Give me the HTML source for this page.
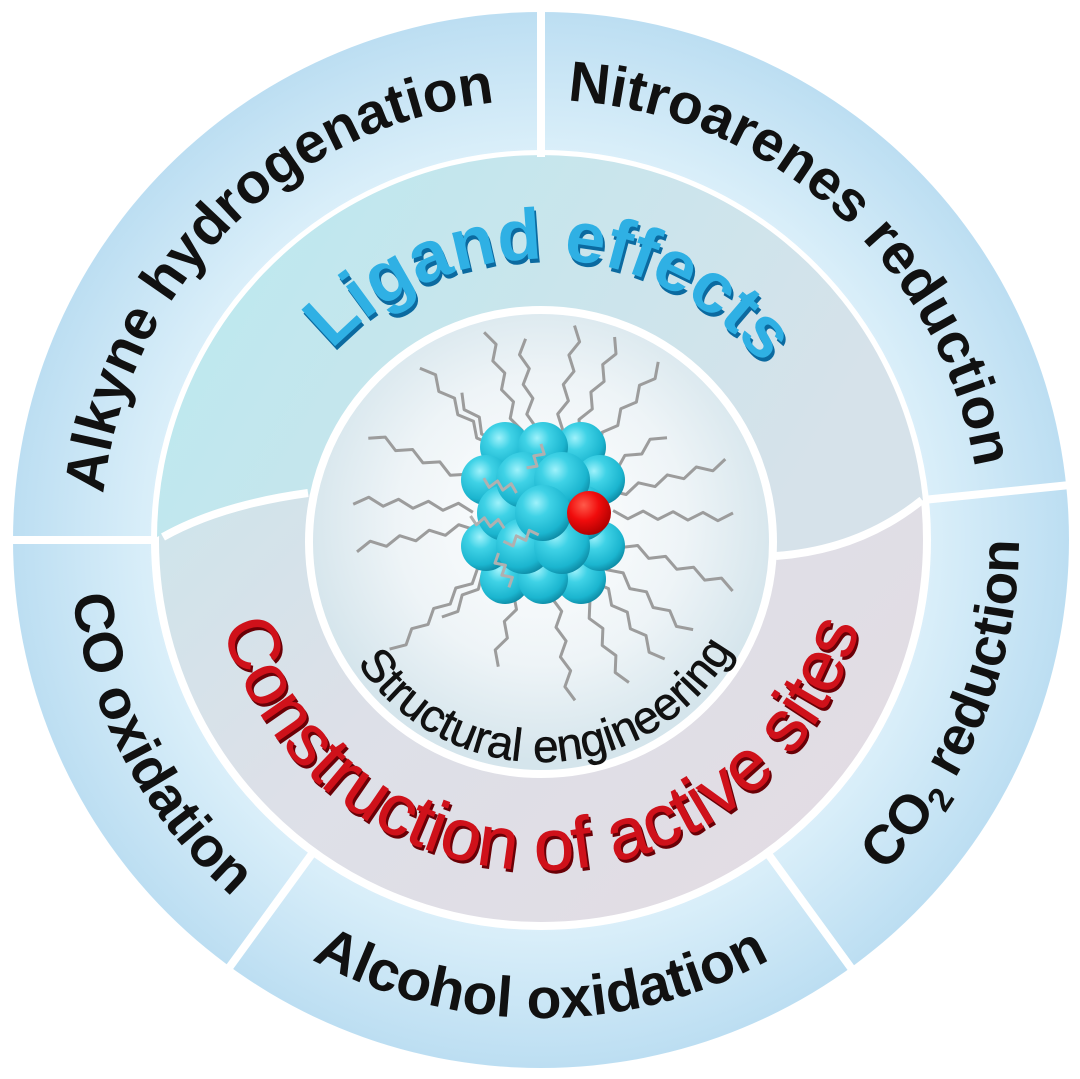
<!DOCTYPE html>
<html><head><meta charset="utf-8"><style>
html,body{margin:0;padding:0;background:#fff;}
svg{display:block;}
</style></head><body>
<svg id="s" width="1080" height="1079" viewBox="0 0 1080 1079" xmlns="http://www.w3.org/2000/svg">
<defs>
<radialGradient id="gOut" cx="541" cy="540" r="528" gradientUnits="userSpaceOnUse">
<stop offset="0.72" stop-color="#dcf0fa"/><stop offset="1" stop-color="#bcdef2"/></radialGradient>
<linearGradient id="gUp" x1="0" y1="0" x2="1" y2="0.3">
<stop offset="0" stop-color="#b9e9ef"/><stop offset="1" stop-color="#d6e2ea"/></linearGradient>
<linearGradient id="gLow" x1="0" y1="0" x2="1" y2="1">
<stop offset="0" stop-color="#c2e8ee"/><stop offset="0.5" stop-color="#dde0e8"/><stop offset="1" stop-color="#e4dbe2"/></linearGradient>
<radialGradient id="gIn" cx="541" cy="520" r="240" gradientUnits="userSpaceOnUse">
<stop offset="0" stop-color="#ffffff"/><stop offset="0.6" stop-color="#eef4f7"/><stop offset="1" stop-color="#d5e5ec"/></radialGradient>
<radialGradient id="gSph" cx="0.38" cy="0.32" r="0.7">
<stop offset="0" stop-color="#9ff2fb"/><stop offset="0.35" stop-color="#3fd2e6"/><stop offset="0.8" stop-color="#1bb5cf"/><stop offset="1" stop-color="#0e8ea8"/></radialGradient>
<radialGradient id="gRed" cx="0.38" cy="0.32" r="0.7">
<stop offset="0" stop-color="#ff5a4a"/><stop offset="0.5" stop-color="#f00c0c"/><stop offset="1" stop-color="#b00000"/></radialGradient>
<path id="pAlk" d="M229.9,851.1 A438,438 0 0 1 852.1,228.9"/>
<path id="pNit" d="M214,245.6 A438,438 0 0 1 868,834.4"/>
<path id="pCO2" d="M361.9,983.2 A478,478 0 0 0 720.1,96.8"/>
<path id="pAlc" d="M63,540 A478,478 0 0 0 1019,540"/>
<path id="pCOo" d="M316.6,118 A478,478 0 0 0 765.4,962"/>
<path id="pLig" d="M256.2,530.1 A285,285 0 0 1 825.8,549.9"/>
<path id="pCon" d="M211,540 A330,330 0 0 0 871,540"/>
<path id="pStr" d="M321.1,549.7 A220,220 0 0 0 760.9,534.3"/>
</defs>
<circle cx="541" cy="540" r="528" fill="url(#gOut)"/>
<circle cx="541" cy="540" r="386" fill="url(#gLow)" stroke="#fff" stroke-width="8"/>
<path d="M157,537 A384,384 0 0 1 923,500 Q860,550 780,555 L541,540 L305,493 Q220,505 157,537 Z" fill="url(#gUp)"/>
<path d="M163,537 Q220,505 308,493" fill="none" stroke="#fff" stroke-width="8"/>
<path d="M776,556 Q860,550 922,500" fill="none" stroke="#fff" stroke-width="8"/>
<circle cx="541" cy="542" r="232" fill="url(#gIn)" stroke="#fff" stroke-width="8"/>
<g stroke="#fff" stroke-width="8">
<line x1="541" y1="8" x2="541" y2="157"/>
<line x1="8" y1="540" x2="157" y2="540"/>
<line x1="923" y1="500" x2="1070" y2="485"/>
<line x1="314" y1="851" x2="226" y2="972"/>
<line x1="766" y1="851" x2="854" y2="972"/>
</g>
<g id="lig" fill="none" stroke="#9c9c9c" stroke-width="3" stroke-linejoin="round"></g>
<g id="clu"></g>
<g id="lig2" fill="none" stroke="#b0b0b0" stroke-width="3" stroke-linejoin="round"></g>
<g font-family="'Liberation Sans',Arial,sans-serif" fill="#111">
<text font-size="57" font-weight="bold"><textPath href="#pAlk" startOffset="50%" text-anchor="middle">Alkyne hydrogenation</textPath></text>
<text font-size="57" font-weight="bold"><textPath href="#pNit" startOffset="50%" text-anchor="middle">Nitroarenes reduction</textPath></text>
<text font-size="55" font-weight="bold"><textPath href="#pCO2" startOffset="50%" text-anchor="middle">CO<tspan font-size="34" dy="10">2</tspan><tspan dy="-10"> reduction</tspan></textPath></text>
<text font-size="57" font-weight="bold"><textPath href="#pAlc" startOffset="50%" text-anchor="middle">Alcohol oxidation</textPath></text>
<text font-size="56" font-weight="bold"><textPath href="#pCOo" startOffset="50%" text-anchor="middle">CO oxidation</textPath></text>
<g transform="translate(2,4)"><text font-size="72" font-weight="bold" fill="#0b6aa0"><textPath href="#pLig" startOffset="50%" text-anchor="middle">Ligand effects</textPath></text></g>
<text font-size="72" font-weight="bold" fill="#2fb0e4"><textPath href="#pLig" startOffset="50%" text-anchor="middle">Ligand effects</textPath></text>
<g transform="translate(2,3)"><text font-size="72" fill="#6a0006" stroke="#6a0006" stroke-width="1"><textPath href="#pCon" startOffset="50%" text-anchor="middle">Construction of active sites</textPath></text></g>
<text font-size="72" fill="#cf111a" stroke="#cf111a" stroke-width="0.8"><textPath href="#pCon" startOffset="50%" text-anchor="middle">Construction of active sites</textPath></text>
<text font-size="46" stroke="#111" stroke-width="0.6"><textPath href="#pStr" startOffset="50%" text-anchor="middle">Structural engineering</textPath></text>
</g>
</svg>
<script>
(function(){
var NS="http://www.w3.org/2000/svg";
var cx=543,cy=513;
var ends=[[580,318],[487,328],[420,362],[360,430],[345,550],[388,656],[493,670],[573,714],[670,672],[736,588],[733,517],[730,462],[668,356],[667,433],[622,330],[350,500],[440,625],[702,642],[455,390],[630,694],[520,326]];
var g=document.getElementById('lig');
function zig(x0,y0,x1,y1,seg,amp){
 var dx=x1-x0,dy=y1-y0,L=Math.sqrt(dx*dx+dy*dy),ux=dx/L,uy=dy/L,px=-uy,py=ux;
 var n=Math.floor(L/seg),pts=[];
 for(var i=0;i<=n;i++){var s=i*seg,o=(i%2?amp:-amp);pts.push((x0+ux*s+px*o).toFixed(1)+','+(y0+uy*s+py*o).toFixed(1));}
 return pts.join(' ');
}
ends.forEach(function(e){
 var dx=e[0]-cx,dy=e[1]-cy,L=Math.sqrt(dx*dx+dy*dy);
 var sx=cx+dx/L*70,sy=cy+dy/L*70;
 var p=document.createElementNS(NS,'polyline');
 p.setAttribute('points',zig(sx,sy,e[0],e[1],15,4));
 g.appendChild(p);
});
var c=document.getElementById('clu');
var sph=[];
var r=25;
for(var row=-4;row<=4;row++){for(var col=-4;col<=4;col++){
 var x=cx+col*38+(row%2?19:0),y=cy+row*33;
 var d=Math.sqrt((x-cx)*(x-cx)*0.95+(y-cy)*(y-cy)*0.85);
 if(d<72)sph.push([x,y,d]);
}}
sph.sort(function(a,b){return b[2]-a[2];});
sph.forEach(function(s){
 var k=document.createElementNS(NS,'circle');
 k.setAttribute('cx',s[0]);k.setAttribute('cy',s[1]);k.setAttribute('r',r+(s[2]<40?3:0));
 k.setAttribute('fill','url(#gSph)');c.appendChild(k);
});
var red=document.createElementNS(NS,'circle');
red.setAttribute('cx',589);red.setAttribute('cy',513);red.setAttribute('r',22);
red.setAttribute('fill','url(#gRed)');c.appendChild(red);
var g2=document.getElementById('lig2');
[[483,482,522,490],[470,520,510,525],[505,545,540,530],[495,555,515,590],[530,470,548,440]].forEach(function(a){
 var p=document.createElementNS(NS,'polyline');
 p.setAttribute('points',zig(a[0],a[1],a[2],a[3],7,4));g2.appendChild(p);
});
})();
</script>
</body></html>
